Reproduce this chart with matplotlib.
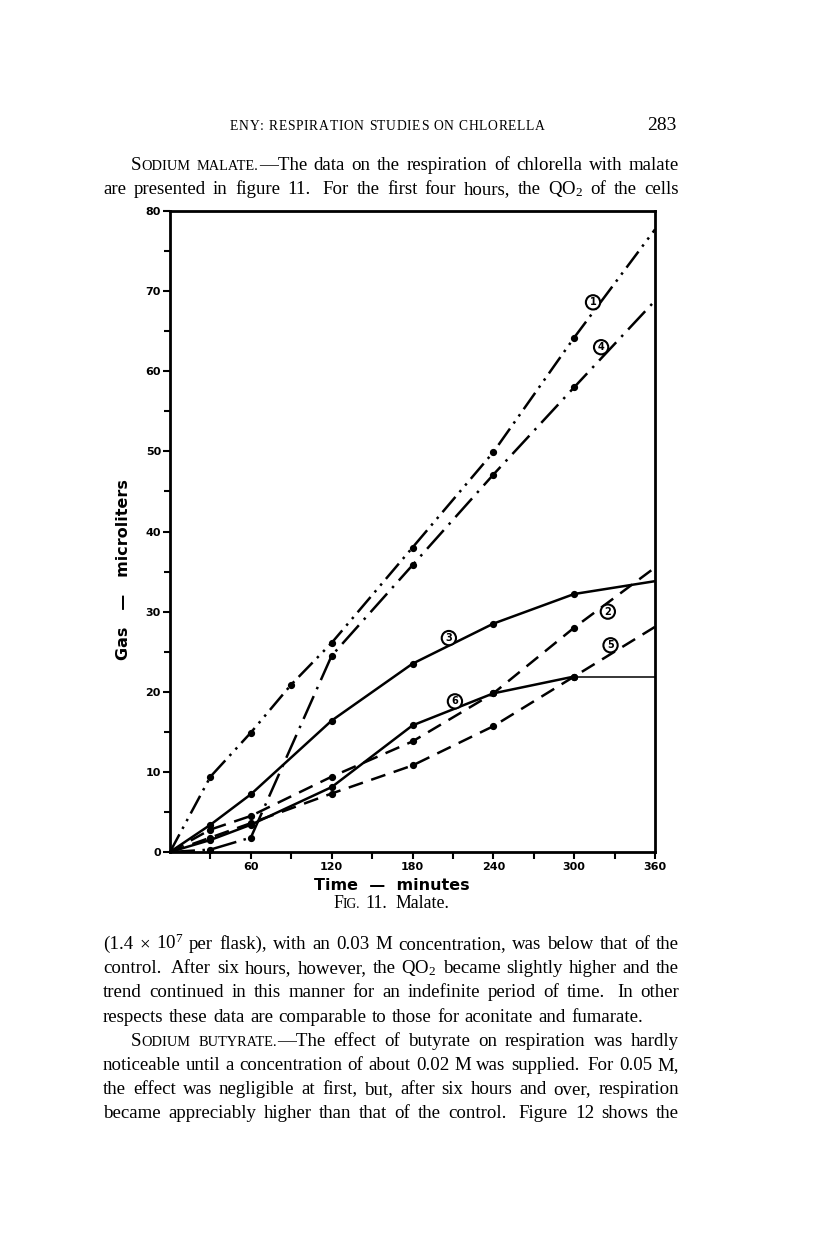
import matplotlib
matplotlib.use('Agg')
import matplotlib.pyplot as plt
from matplotlib.ticker import FixedLocator, NullFormatter

W, H = 816, 1242
plt.rcParams['mathtext.fontset'] = 'custom'
plt.rcParams['mathtext.rm'] = 'Liberation Serif'
plt.rcParams['mathtext.it'] = 'Liberation Serif:italic'

# ---------------- data ----------------
t_full = [0, 30, 60, 90, 120, 180, 240, 300, 360]
t_std = [0, 30, 60, 120, 180, 240, 300, 360]

curve1 = [0, 9.4, 14.9, 20.9, 26.1, 38.0, 49.9, 64.2, 77.7]   # on t_full
curve4 = [0, 0.3, 1.8, 24.5, 35.8, 47.1, 58.0, 68.8]          # on t_std
curve3 = [0, 3.4, 7.2, 16.4, 23.5, 28.5, 32.2, 33.8]
curve2 = [0, 2.8, 4.5, 9.4, 13.8, 19.8, 28.0, 35.5]
curve6 = [0, 1.5, 3.4, 8.1, 15.8, 19.8, 21.9, 21.9]
curve5 = [0, 1.8, 3.6, 7.3, 10.8, 15.7, 21.9, 28.1]

x_ticks = [60, 120, 180, 240, 300, 360]
x_minor = [30, 90, 150, 210, 270, 330]
y_ticks = [0, 10, 20, 30, 40, 50, 60, 70, 80]
y_minor = [5, 15, 25, 35, 45, 55, 65, 75]

curve_labels = ['1', '2', '3', '4', '5', '6']

# ---------------- figure ----------------
fig = plt.figure(figsize=(W / 100, H / 100), dpi=100)
fig.patch.set_facecolor('white')
renderer = fig.canvas.get_renderer()

ax = fig.add_axes([170 / W, 1 - 852 / H, 485 / W, 641 / H])
ax.set_xlim(0, 360)
ax.set_ylim(0, 80)

lw = 1.8
ms = 4.2
mk = dict(marker='o', markersize=ms, markerfacecolor='black', markeredgecolor='black')

def draw(t, v, ls, width=lw):
    n = len(t)
    ax.plot(t, v, color='black', lw=width, linestyle=ls, markevery=list(range(1, n - 1)),
            solid_capstyle='butt', dash_capstyle='butt', clip_on=False, **mk)

draw(t_full, curve1, (0, (8, 2.5, 1.0, 2.5, 1.0, 2.5)))
draw(t_std, curve4, (0, (10, 3, 1.0, 3)))
draw(t_std, curve3, '-')
draw(t_std, curve2, (0, (6, 3.5)))
draw(t_std, curve5, (0, (6, 3.5)))
# curve 6: thick up to 300 min, thin flat continuation
ax.plot(t_std[:-1], curve6[:-1], color='black', lw=lw, markevery=list(range(1, len(t_std) - 1)), **mk)
ax.plot(t_std[-2:], curve6[-2:], color='black', lw=1.1)

# circled curve labels
label_pos = {'1': (314, 68.6), '2': (325, 30.0), '3': (207, 26.7),
             '4': (320, 63.0), '5': (327, 25.8), '6': (211.5, 18.8)}
for lab in curve_labels:
    x, y = label_pos[lab]
    ax.text(x, y, lab, ha='center', va='center', fontsize=7, fontweight='bold',
            family='DejaVu Sans',
            bbox=dict(boxstyle='circle,pad=0.22', fc='white', ec='black', lw=1.5), zorder=5)

for s in ax.spines.values():
    s.set_linewidth(2.0)

ax.xaxis.set_major_locator(FixedLocator(x_ticks))
ax.xaxis.set_minor_locator(FixedLocator(x_minor))
ax.yaxis.set_major_locator(FixedLocator(y_ticks))
ax.yaxis.set_minor_locator(FixedLocator(y_minor))
ax.xaxis.set_minor_formatter(NullFormatter())
ax.yaxis.set_minor_formatter(NullFormatter())
ax.set_xticklabels([str(v) for v in x_ticks])
ax.set_yticklabels([str(v) for v in y_ticks])
ax.tick_params(axis='both', which='both', direction='out', width=1.5, labelsize=8)
ax.tick_params(axis='x', which='both', length=5, pad=2)
ax.tick_params(axis='y', which='major', length=5, pad=1.5)
ax.tick_params(axis='y', which='minor', length=4)
for lbl in ax.get_xticklabels() + ax.get_yticklabels():
    lbl.set_fontweight('bold')
    lbl.set_family('DejaVu Sans')

# axis labels (figure-pixel placement)
def fx(x):
    return x / W

def fy(y):
    return 1 - y / H

fig.text(fx(392), fy(886), 'Time  —  minutes', ha='center', va='center', fontsize=11.5,
         fontweight='bold', family='DejaVu Sans')
fig.text(fx(123), fy(570), 'Gas   —   microliters', ha='center', va='center', fontsize=11.5,
         fontweight='bold', family='DejaVu Sans', rotation=90)

# ---------------- page text ----------------
SERIF = 'Liberation Serif'
BODY = 13.6
SC = 0.76

def parse_word(word):
    segs = []
    in_sc = False
    for ch in word:
        if ch == '[':
            in_sc = True
            continue
        if ch == ']':
            in_sc = False
            continue
        if in_sc and not ch.isupper():
            sc, c = SC, ch.upper()
        else:
            sc, c = 1.0, ch
        if segs and segs[-1][1] == sc:
            segs[-1][0] += c
        else:
            segs.append([c, sc])
    return segs

def text_w(s, size, weight='normal'):
    t = fig.text(0, 0, s, fontsize=size, family=SERIF, weight=weight)
    w = t.get_window_extent(renderer).width
    t.remove()
    return w

def word_w(segs, size):
    return sum(text_w(s, size * sc) for s, sc in segs)

def place_word(segs, x, yb, size):
    for s, sc in segs:
        fig.text(fx(x), fy(yb), s, fontsize=size * sc, family=SERIF, va='baseline', ha='left')
        x += text_w(s, size * sc)

def line(txt, x0, x1, yb, size=BODY, justify=True):
    words = txt.split()
    segs = [parse_word(w) for w in words]
    widths = [word_w(s, size) for s in segs]
    weights = [1.6 if (w.endswith('.') and not w.endswith('M.')) or w.endswith(').') else 1.0
               for w in words[:-1]]
    natural = text_w('a a', size) - text_w('aa', size)
    if justify and len(words) > 1:
        unit = (x1 - x0 - sum(widths)) / sum(weights)
    else:
        unit = natural * 1.15
    x = x0
    for i, (sg, wd) in enumerate(zip(segs, widths)):
        place_word(sg, x, yb, size)
        if i < len(weights):
            x += wd + unit * weights[i]

def tracked(txt, x0, x1, yb, size):
    chars = list(txt)
    cw = [text_w(c, size) if c != ' ' else 0.0 for c in chars]
    space = text_w('a a', size) - text_w('aa', size)
    nsp = chars.count(' ')
    track = (x1 - x0 - sum(cw) - nsp * space) / (len(chars) - 1)
    x = x0
    for c, w in zip(chars, cw):
        if c != ' ':
            fig.text(fx(x), fy(yb), c, fontsize=size, family=SERIF, va='baseline', ha='left')
            x += w + track
        else:
            x += space + track

# running head
tracked('ENY: RESPIRATION STUDIES ON CHLORELLA', 230, 545, 130, 9.8)
fig.text(fx(677), fy(130), '283', fontsize=14, family=SERIF, ha='right', va='baseline')

L0, L1 = 103, 679
IND = 131
line('[Sodium] [malate.]—The data on the respiration of chlorella with malate', IND, L1, 170)
line('are presented in figure 11.  For the first four hours, the QO$_2$ of the cells', L0, L1, 194)

# caption
line('[Fig.] 11.  Malate.', 333, 443, 908, size=12.8, justify=False)

body2 = [
    ('(1.4 × 10$^7$ per flask), with an 0.03 M concentration, was below that of the', L0, True),
    ('control.  After six hours, however, the QO$_2$ became slightly higher and the', L0, True),
    ('trend continued in this manner for an indefinite period of time.  In other', L0, True),
    ('respects these data are comparable to those for aconitate and fumarate.', L0, False),
    ('[Sodium] [butyrate.]—The effect of butyrate on respiration was hardly', IND, True),
    ('noticeable until a concentration of about 0.02 M was supplied.  For 0.05 M,', L0, True),
    ('the effect was negligible at first, but, after six hours and over, respiration', L0, True),
    ('became appreciably higher than that of the control.  Figure 12 shows the', L0, True),
]
for i, (txt, x0, just) in enumerate(body2):
    line(txt, x0, L1, 949 + 24.2 * i, justify=just)

fig.savefig('out.png', dpi=100, facecolor='white')
